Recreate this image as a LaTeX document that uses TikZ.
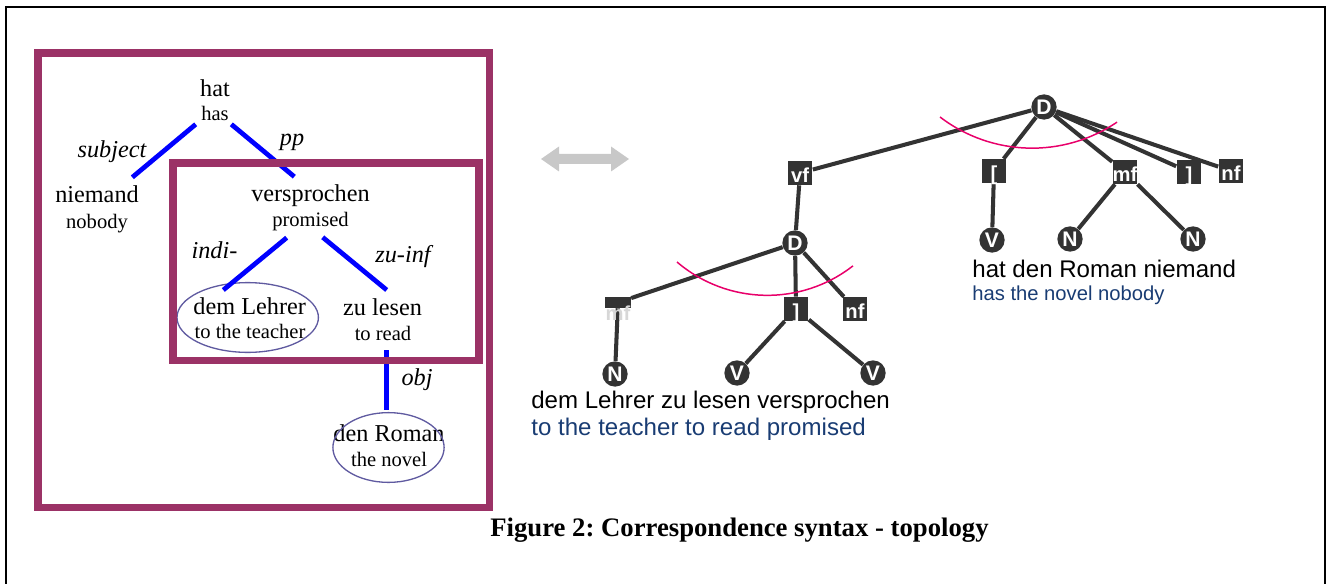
\documentclass[tikz,border=0pt]{standalone}
\usepackage{fontspec}
\setmainfont{Liberation Serif}
\newfontfamily\arialfont{Liberation Sans}
\usetikzlibrary{shapes.geometric,backgrounds}
\definecolor{frameplum}{RGB}{155,50,102}
\definecolor{linkblue}{RGB}{0,0,255}
\definecolor{ovalrim}{RGB}{95,90,160}
\definecolor{topodark}{RGB}{51,51,51}
\definecolor{arcpink}{RGB}{232,0,106}
\definecolor{glossblue}{RGB}{25,60,115}
\definecolor{arrowgray}{RGB}{200,200,200}
\definecolor{faintlabel}{RGB}{215,215,215}
\frenchspacing
\begin{document}
\begin{tikzpicture}[x=0.02cm,y=-0.02cm,
  word/.style={anchor=base,inner sep=0pt,font=\fontsize{13.8}{16}\selectfont},
  gloss/.style={anchor=base,inner sep=0pt,font=\fontsize{11.7}{14}\selectfont},
  rellabel/.style={anchor=base,inner sep=0pt,font=\fontsize{13.8}{16}\selectfont\itshape},
  depline/.style={draw=linkblue,line width=2.7pt},
  oval/.style={draw=ovalrim,line width=0.75pt,ellipse,inner sep=0pt,minimum height=39.7pt},
  plumframe/.style={draw=frameplum},
  topnode/.style={circle,fill=topodark,inner sep=0pt,minimum size=14.4pt,text=white,
    font=\arialfont\bfseries\fontsize{12}{12}\selectfont},
  field/.style={rectangle,fill=topodark,inner sep=0pt,minimum width=14.2pt,minimum height=13.6pt,
    text height=12.4pt,text depth=1.2pt,text=white,font=\arialfont\bfseries\fontsize{11.5}{11.5}\selectfont},
  topoedge/.style={draw=topodark,line width=2.3pt},
  domarc/.style={draw=arcpink,line width=0.85pt},
  sentence/.style={anchor=base west,inner sep=0pt,font=\arialfont\fontsize{13.7}{16}\selectfont},
  sentgloss/.style={anchor=base west,inner sep=0pt,text=glossblue},
]
\useasboundingbox (0,0) rectangle (1327,584);

% page frame
\draw[line width=1.1pt] (6,7) rectangle (1325,640);

% ---------- dependency tree ----------
\node[word]  (hat)    at (215,96.7)  {hat};
\node[gloss] (hatgl)  at (215,121)   {has};
\node[word]  (niem)   at (97,202.7)  {niemand};
\node[gloss] (niemgl) at (97,228)    {nobody};
\node[word]  (vers)   at (310.5,201.7) {versprochen};
\node[gloss] (versgl) at (310.5,226) {promised};
\node[word]  (lehr)   at (249.7,314) {dem Lehrer};
\node[gloss] (lehrgl) at (250,338)   {to the teacher};
\node[word]  (lesen)  at (382.5,315) {zu lesen};
\node[gloss] (lesengl) at (383,340)  {to read};
\node[word]  (roman)  at (389,441.7) {den Roman};
\node[gloss] (romangl) at (389,466)  {the novel};

\node[oval,minimum width=80.5pt] (lehrE)  at (247.7,317.5) {};
\node[oval,minimum width=63.3pt] (romanE) at (388.5,447.5) {};

\node[rellabel] (subj) at (112,158)   {subject};
\node[rellabel] (ppl)  at (292,146)   {pp};
\node[rellabel] (indi) at (214.5,258) {indi-};
\node[rellabel] (zuinf) at (403,262.7) {zu-inf};
\node[rellabel] (objl) at (417,385)   {obj};

% end points of the dependency links
\coordinate (subjA) at (195.7,124.3); \coordinate (subjB) at (132.3,177.3);
\coordinate (ppA)   at (231.3,124.3); \coordinate (ppB)   at (294.3,176.7);
\coordinate (indiA) at (286.7,237.7); \coordinate (indiB) at (223.3,290);
\coordinate (zuA)   at (322.7,237.3); \coordinate (zuB)   at (386.7,290);
\coordinate (objA)  at (386.7,350);   \coordinate (objB)  at (386.7,410);

\draw[depline] (subjA) -- (subjB);
\draw[depline] (ppA) -- (ppB);
\draw[depline] (indiA) -- (indiB);
\draw[depline] (zuA) -- (zuB);
\draw[depline] (objA) -- (objB);

% nested domains
\draw[plumframe,line width=4.5pt] (38,53) rectangle (489.5,507.5);
\draw[plumframe,line width=4.25pt] (173,163) rectangle (479,360.5);

% correspondence arrow
\fill[arrowgray] (541,159) -- (559,146.5) -- (559,154) -- (611,154) -- (611,146.5)
  -- (629,159) -- (611,171.5) -- (611,164) -- (559,164) -- (559,171.5) -- cycle;

% ---------- topological tree ----------
\node[topnode] (Dtop) at (1044,107) {D};
\node[field] (vf)   at (800,173)  {\makebox[0pt]{vf}};
\node[field] (lbr)  at (994,171)  {\makebox[0pt]{[}};
\node[field] (mfa)  at (1125,172) {\makebox[0pt]{mf}};
\node[field] (rbra) at (1189,172) {\makebox[0pt]{]}};
\node[field] (nfa)  at (1231,171) {\makebox[0pt]{nf}};
\node[topnode] (Va) at (992,240)  {V};
\node[topnode] (Na) at (1070,239) {N};
\node[topnode] (Nb) at (1193,239) {N};

\node[topnode] (Dlow) at (795,243) {D};
% the middle-field box of the embedded clause: short dark bar, faint label under it
\node[rectangle,fill=topodark,inner sep=0pt,minimum width=14.6pt,minimum height=6.2pt] (mfb) at (618,302.5) {};
\node[anchor=base,inner sep=0pt,text=faintlabel,font=\arialfont\bfseries\fontsize{11.5}{11.5}\selectfont] (mfblabel) at (618,320) {mf};
\node[field] (rbrb) at (796,309) {\makebox[0pt]{]}};
\node[field] (nfb)  at (855,309) {\makebox[0pt]{nf}};
\node[topnode] (Nc) at (615,374) {N};
\node[topnode] (Vb) at (737,373) {V};
\node[topnode] (Vc) at (873,373) {V};

\begin{scope}[on background layer]
  \draw[topoedge] (Dtop) -- (vf);
  \draw[topoedge] (Dtop) -- (lbr);
  \draw[topoedge] (Dtop) -- (mfa);
  \draw[topoedge] (Dtop) -- (rbra);
  \draw[topoedge] (Dtop) -- (nfa);
  \draw[topoedge] (lbr) -- (Va);
  \draw[topoedge] (mfa) -- (Na);
  \draw[topoedge] (mfa) -- (Nb);
  \draw[topoedge] (vf) -- (Dlow);
  \draw[topoedge] (Dlow) -- (mfb);
  \draw[topoedge] (Dlow) -- (rbrb);
  \draw[topoedge] (Dlow) -- (nfb);
  \draw[topoedge] (mfb) -- (Nc);
  \draw[topoedge] (rbrb) -- (Vb);
  \draw[topoedge] (rbrb) -- (Vc);
\end{scope}

% domain arcs
\draw[domarc] (940,117) arc[start angle=127.4, end angle=55.9, radius=151.6];
\draw[domarc] (677,262) arc[start angle=130.5, end angle=52.0, radius=139.1];

\node[sentence] (sentA) at (972,277) {hat den Roman niemand};
\node[sentence,sentgloss,font=\arialfont\fontsize{11.5}{14}\selectfont] (glossA) at (972,300) {has the novel nobody};
\node[sentence] (sentB) at (531,408) {dem Lehrer zu lesen versprochen};
\node[sentence,sentgloss] (glossB) at (531,435.5) {to the teacher to read promised};

% caption
\node[anchor=base,inner sep=0pt,font=\fontsize{15.2}{18}\selectfont\bfseries] (caption) at (739.5,536.7)
  {Figure 2: Correspondence syntax - topology};
\end{tikzpicture}
\end{document}
